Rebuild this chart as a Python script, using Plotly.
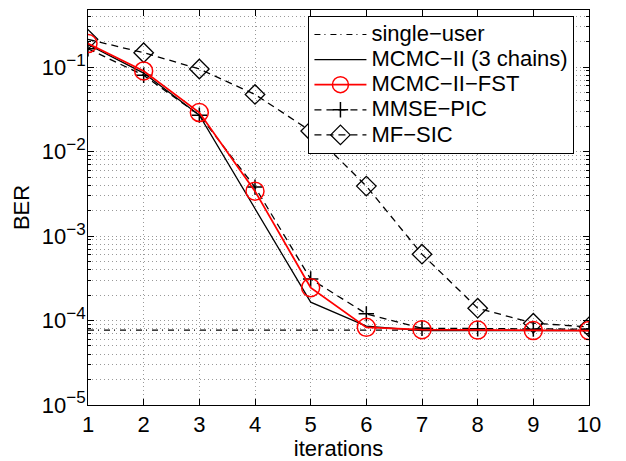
import plotly.graph_objects as go

iterations = [1, 2, 3, 4, 5, 6, 7, 8, 9, 10]
single_user = [7.7e-5] * 10
mcmc_ii = [0.185, 0.085, 0.027, 0.0021, 1.65e-4, 8.6e-5, 7.6e-5, 7.6e-5, 7.6e-5, 7.6e-5]
mcmc_fst = [0.19, 0.090, 0.029, 0.0034, 2.45e-4, 8.3e-5, 7.8e-5, 7.7e-5, 7.6e-5, 7.6e-5]
mmse_pic = [0.165, 0.080, 0.027, 0.0038, 3.1e-4, 1.2e-4, 8.1e-5, 8.0e-5, 7.9e-5, 7.9e-5]
mf_sic = [0.213, 0.148, 0.095, 0.0475, 0.0175, 0.0039, 6.1e-4, 1.4e-4, 9.3e-5, 8.4e-5]
series_names = ["single−user", "MCMC−II (3 chains)", "MCMC−II−FST", "MMSE−PIC", "MF−SIC"]

major_vals = [1e-5, 1e-4, 1e-3, 1e-2, 1e-1]
major_exp = ["−5", "−4", "−3", "−2", "−1"]
major_text = ['10<sup><span style="font-size:17px">' + e + '</span></sup>' for e in major_exp]
minor_vals = [m * d for d in [1e-5, 1e-4, 1e-3, 1e-2, 1e-1] for m in range(2, 10)]

FONT = "Liberation Sans, Arial, Helvetica, sans-serif"
GRID = "rgba(0,0,0,0.4)"
GDASH = "1px,3px"


def lg(name):
    # legend text drawn larger than the legend's nominal font, so rows stay compact
    return '<span style="font-size:22px">' + name + '</span>'


fig = go.Figure()
fig.add_trace(go.Scatter(x=iterations, y=single_user, name=lg(series_names[0]), mode="lines",
                         line=dict(color="black", width=1.2, dash="6px,4px,1px,5px"), legendrank=1))
fig.add_trace(go.Scatter(x=iterations, y=mcmc_ii, name=lg(series_names[1]), mode="lines",
                         line=dict(color="black", width=1.3), legendrank=2))
fig.add_trace(go.Scatter(x=iterations, y=mmse_pic, name=lg(series_names[3]), mode="lines+markers",
                         line=dict(color="black", width=1.3, dash="7px,5px"),
                         marker=dict(symbol="cross-thin-open", size=11, color="black",
                                     line=dict(color="black", width=1.5)), legendrank=4))
fig.add_trace(go.Scatter(x=iterations, y=mf_sic, name=lg(series_names[4]), mode="lines+markers",
                         line=dict(color="black", width=1.3, dash="7px,5px"),
                         marker=dict(symbol="diamond-open", size=15, color="black",
                                     line=dict(color="black", width=1.3)), legendrank=5))
fig.add_trace(go.Scatter(x=iterations, y=mcmc_fst, name=lg(series_names[2]), mode="lines+markers",
                         line=dict(color="red", width=1.8),
                         marker=dict(symbol="circle-open", size=18, color="red",
                                     line=dict(color="red", width=1.5)), legendrank=3))

# the page body adds an 8px offset; size the figure so the plot area lands where the reference has it
fig.update_layout(
    width=618, height=453,
    margin=dict(l=80, r=37, t=1.5, b=56, autoexpand=False),
    paper_bgcolor="white", plot_bgcolor="white",
    font=dict(family=FONT, size=22, color="black"),
    showlegend=True,
    legend=dict(x=0.44, y=0.985, xanchor="left", yanchor="top",
                bgcolor="white", bordercolor="black", borderwidth=1,
                font=dict(family=FONT, size=17, color="black"),
                tracegroupgap=0, itemwidth=52, traceorder="normal"),
    xaxis=dict(
        range=[1, 10], tickvals=iterations, ticktext=[str(v) for v in iterations],
        showline=True, linecolor="black", linewidth=1, mirror="ticks",
        ticks="inside", ticklen=6, tickcolor="black",
        showgrid=True, gridcolor=GRID, griddash=GDASH, gridwidth=1,
        zeroline=False, automargin=False,
        title=dict(text="iterations", standoff=0, font=dict(size=22)),
        tickfont=dict(size=22),
    ),
    yaxis=dict(
        type="log", range=[-5, -0.324],
        tickvals=major_vals, ticktext=major_text,
        showline=True, linecolor="black", linewidth=1, mirror="ticks",
        ticks="inside", ticklen=6, tickcolor="black",
        showgrid=True, gridcolor=GRID, griddash=GDASH, gridwidth=1,
        zeroline=False, automargin=False, ticklabelstandoff=-3,
        minor=dict(tickvals=minor_vals, ticks="inside", ticklen=3, tickcolor="black",
                   showgrid=True, gridcolor=GRID, griddash=GDASH, gridwidth=1),
        title=dict(text="BER", standoff=6, font=dict(size=22)),
        tickfont=dict(size=22),
    ),
)

fig.write_html("out.html")
